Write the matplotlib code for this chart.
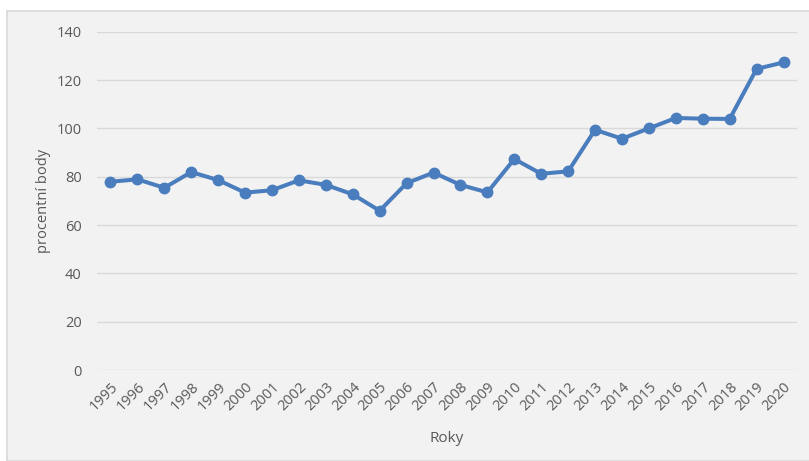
import matplotlib.pyplot as plt
from matplotlib.patches import Rectangle

roky = [str(r) for r in range(1995, 2021)]
hodnoty = [77.9, 78.9, 75.4, 81.9, 78.6, 73.4, 74.4, 78.5, 76.6, 72.7,
           65.9, 77.3, 81.7, 76.6, 73.5, 87.3, 81.2, 82.2, 99.4, 95.7,
           100.0, 104.3, 104.0, 103.9, 124.6, 127.3]
y_ticks = [0, 20, 40, 60, 80, 100, 120, 140]

plt.rcParams['font.family'] = ['Open Sans', 'DejaVu Sans']
bg = '#f2f2f2'
txt = '#595959'

fig = plt.figure(figsize=(8.09, 4.61), dpi=100, facecolor='white')
# sedy ramecek grafu
fig.patches.append(Rectangle((7 / 809, 0), 1, 1 - 11 / 461, transform=fig.transFigure,
                             facecolor=bg, edgecolor='#d9d9d9', linewidth=1.2, zorder=-10))

ax = fig.add_axes([97 / 809, 1 - 370 / 461, 700 / 809, (370 - 31.7) / 461])
ax.patch.set_alpha(0)

x = list(range(len(roky)))
ax.plot(x, hodnoty, color='#4a7dbd', linewidth=2.9, marker='o', markersize=7.5, zorder=3)

ax.set_xlim(-0.5, len(roky) - 0.5)
ax.set_ylim(0, 140)
ax.set_yticks(y_ticks)
ax.set_xticks(x)
ax.set_xticklabels(roky, rotation=45, ha='right', rotation_mode='anchor')
ax.grid(axis='y', color='#d9d9d9', linewidth=1)
ax.set_axisbelow(True)
for s in ax.spines.values():
    s.set_visible(False)
ax.tick_params(length=0, colors=txt, labelsize=10.5)
ax.tick_params(axis='y', pad=11)
ax.tick_params(axis='x', pad=7)

ax.set_ylabel('procentní body', color=txt, fontsize=10.5, labelpad=4)
ax.set_xlabel('Roky', color=txt, fontsize=11, labelpad=12)

fig.savefig('out.png', dpi=100, facecolor='white')
